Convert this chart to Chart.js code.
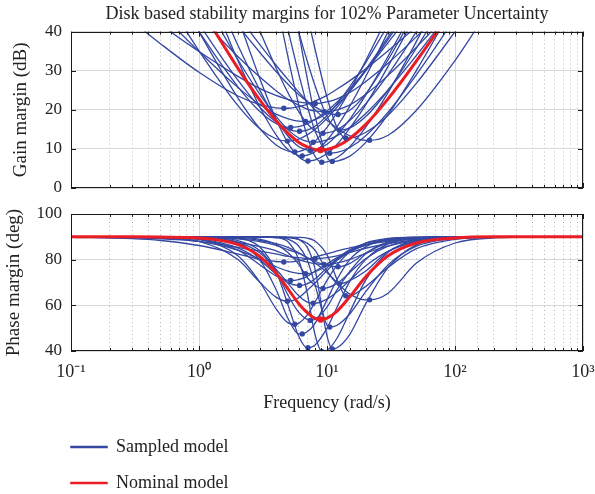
<!DOCTYPE html>
<html>
<head>
<meta charset="utf-8">
<script src="https://cdn.jsdelivr.net/npm/chart.js@4.4.1/dist/chart.umd.min.js"></script>
<style>
  html, body { margin: 0; padding: 0; background: #fff; overflow: hidden; width: 595px; height: 494px; }
  canvas { position: absolute; }
</style>
</head>
<body>
<canvas id="gain" width="595" height="195" style="left:0;top:0"></canvas>
<canvas id="phase" width="595" height="225" style="left:0;top:195px"></canvas>
<canvas id="key" width="250" height="200" style="left:53px;top:420px"></canvas>
<script>
// frequency grid (rad/s) shared by every curve
var FREQ = [0.1, 0.3, 0.5, 1, 2, 3, 4, 5, 6, 7, 8, 10, 12, 15, 20, 30, 50, 100, 200, 1000];

// nominal model
var nominalGain  = [90, 75, 63, 46.7, 30.8, 22.4, 17.2, 13.9, 11.7, 10.5, 9.85, 9.85, 10.7, 12.6, 16.2, 22.8, 32.5, 47, 65, 90];
var nominalPhase = [90, 90, 89.9, 89.5, 86.7, 81.3, 74.2, 66.9, 60.8, 56.8, 54.4, 54.4, 57.5, 63.6, 72.4, 81.7, 87.3, 89.5, 90, 90];
var nominalMinFreq = 8.9, nominalMinGain = 9.7, nominalMinPhase = 53.8;

// sampled models, gain margin (dB) on FREQ
var sampledGain = [
  [56, 42.7, 36.9, 29.6, 23.6, 21.3, 20.5, 20.4, 20.8, 21.4, 22.2, 23.7, 25.3, 27.4, 30.4, 35.1, 41.3, 50.2, 59, 70],
  [59, 47.2, 41.8, 34.9, 28.6, 25.4, 23.7, 22.6, 22.0, 21.7, 21.6, 22.0, 22.8, 24.4, 27.2, 31.9, 38.7, 48.5, 58.4, 70],
  [90, 75, 65, 54.6, 41.7, 34.6, 29.8, 26.4, 23.9, 22.1, 20.8, 19.2, 18.8, 19.8, 24.0, 32.8, 45.8, 65, 80, 90],
  [90, 67, 55.4, 40.0, 26.0, 19.5, 16.5, 15.5, 15.7, 16.4, 17.5, 19.7, 22.0, 25.3, 30.0, 37.2, 46.7, 60, 75, 90],
  [100, 95, 88, 78, 53.8, 40, 30.7, 24.1, 19.6, 16.5, 14.7, 14.1, 14.9, 17.2, 21.5, 29.0, 40, 55.9, 70, 90],
  [100, 100, 100, 100, 95, 76, 61, 49.3, 40, 32.5, 26.5, 18.3, 14.9, 15.3, 18.2, 25.0, 35.8, 52.3, 70, 90],
  [90, 70, 57.6, 42.0, 27.7, 20.6, 16.9, 15.0, 14.5, 14.8, 15.7, 18.5, 21.5, 25.8, 32.0, 41.7, 54.5, 70, 85, 95],
  [85, 62.7, 50.6, 35.1, 21.2, 15.1, 12.6, 12.0, 12.5, 13.6, 14.9, 17.8, 20.7, 24.6, 30.2, 38.6, 49.9, 65, 80, 95],
  [95, 85, 70, 57.8, 44.2, 36.6, 31.4, 27.6, 24.6, 22.2, 20.1, 17.3, 15.3, 13.4, 12.2, 13.5, 19.9, 32.6, 47.2, 75],
  [90, 80, 68, 50.3, 33.0, 23.9, 18.3, 14.8, 12.8, 11.9, 11.7, 12.3, 13.4, 15.5, 19.0, 25.1, 33.9, 46.8, 60, 90],
  [90, 75, 58.4, 40, 23.2, 15.1, 11.0, 9.4, 9.3, 10.2, 11.8, 15.5, 19.4, 24.8, 32.5, 44.2, 60, 75, 90, 95],
  [95, 85, 70, 55.9, 32.8, 20.6, 13.6, 9.7, 8.3, 8.4, 9.2, 12.2, 15.7, 20.8, 28.4, 40, 55.6, 75, 90, 95],
  [100, 95, 85, 73, 43.9, 27.8, 17.6, 11.3, 8.0, 6.9, 7.1, 8.8, 11.2, 15.2, 21.2, 31.1, 44.7, 65, 85, 95],
  [100, 100, 100, 95, 85, 69, 48.2, 32.9, 21.4, 13.3, 8.3, 6.7, 7.8, 10.5, 15.5, 24.4, 37.5, 56.7, 75, 95],
  [100, 100, 100, 100, 95, 85, 73, 54.8, 40.0, 28.1, 18.9, 8.0, 6.9, 8.1, 11.6, 18.8, 30.1, 47.3, 65, 95],
  [95, 90, 75, 58.9, 36.7, 24.9, 17.6, 13.1, 10.6, 9.7, 9.7, 11.2, 13.6, 17.5, 23.7, 33.7, 47.4, 70, 85, 95],
  [100, 100, 100, 95, 85, 72, 53.8, 40, 29.3, 21.0, 14.9, 9.1, 9.1, 10.3, 13.3, 19.4, 29.0, 43.5, 59, 90],
  [100, 100, 100, 100, 95, 85, 75, 66, 54.4, 44.4, 36.0, 23.2, 15.4, 12.8, 14.2, 18.6, 26.8, 40, 54.1, 85],
  [70, 52.7, 44.9, 34.9, 25.8, 21.3, 18.9, 17.7, 17.1, 17.0, 17.4, 19.1, 21.3, 24.7, 29.9, 38.0, 49, 65, 80, 95],
  [90, 65, 54.8, 44.0, 33.7, 28.3, 24.9, 22.6, 21.2, 20.2, 19.7, 19.5, 20.0, 21.2, 23.9, 28.8, 36.0, 46.8, 60, 90]
];

// sampled models, phase margin (deg) on FREQ
var sampledPhase = [
  [89.8, 89.2, 88.4, 86.2, 82.5, 80.1, 79.2, 79.0, 79.5, 80.2, 81.1, 82.5, 83.8, 85.1, 86.6, 88.0, 89.0, 89.6, 89.9, 90],
  [89.9, 89.5, 89.1, 88.0, 85.4, 83.7, 82.5, 81.4, 80.9, 80.5, 80.5, 80.9, 81.7, 83.1, 85.0, 87.0, 88.7, 89.5, 89.9, 90],
  [90, 90, 90, 89.8, 89.1, 87.9, 86.3, 84.3, 82.8, 80.9, 79.3, 77.5, 76.9, 78.3, 82.9, 87.2, 89.5, 90, 90, 90],
  [90, 90, 89.8, 88.9, 84.3, 77.7, 72.9, 70.9, 71.3, 72.7, 74.8, 78.1, 80.9, 83.9, 86.4, 88.4, 89.5, 89.9, 90, 90],
  [90, 90, 90, 90, 89.8, 88.9, 86.7, 82.9, 78.0, 72.2, 68.9, 67.6, 69.6, 74.3, 80.4, 85.9, 88.9, 89.8, 90, 90],
  [90, 90, 90, 90, 90, 90, 89.9, 89.6, 88.9, 87.2, 84.4, 75.1, 69.6, 70.8, 74.9, 83.6, 88.2, 89.7, 90, 90],
  [90, 90, 89.9, 89.1, 85.2, 79.7, 73.7, 69.8, 68.7, 69.4, 71.4, 76.4, 80.4, 84.3, 87.1, 89.0, 89.7, 90, 90, 90],
  [90, 89.9, 89.6, 88.0, 80.2, 70.0, 63.6, 61.8, 63.3, 66.6, 69.6, 75.2, 79.7, 83.3, 86.5, 88.7, 89.6, 90, 90, 90],
  [90, 90, 90, 89.9, 89.4, 88.4, 87.0, 85.3, 83.0, 80.9, 78.8, 74.4, 69.9, 65.0, 62.4, 65.3, 78.5, 87.3, 89.5, 90],
  [90, 90, 90, 89.6, 87.7, 82.9, 75.8, 69.4, 64.2, 61.4, 60.9, 62.7, 65.9, 70.9, 77.2, 83.6, 87.8, 89.5, 89.9, 90],
  [90, 90, 89.9, 88.9, 81.8, 70.0, 58.5, 52.2, 52.1, 55.7, 61.1, 70.9, 77.7, 83.4, 87.3, 89.3, 89.9, 90, 90, 90],
  [90, 90, 90, 89.8, 87.6, 79.7, 66.9, 53.8, 47.5, 48.4, 51.8, 62.4, 71.4, 79.9, 85.6, 88.9, 89.8, 90, 90, 90],
  [90, 90, 90, 90, 89.3, 85.4, 74.9, 59.6, 46.6, 41.4, 42.4, 50.0, 59.3, 70.3, 80.0, 86.9, 89.4, 89.9, 90, 90],
  [90, 90, 90, 90, 90, 89.9, 89.6, 87.6, 80.1, 65.6, 48.0, 40.3, 45.7, 56.8, 70.9, 83.2, 88.4, 89.8, 90, 90],
  [90, 90, 90, 90, 90, 90, 89.9, 89.8, 88.9, 85.5, 76.7, 46.6, 41.4, 47.1, 60.5, 76.5, 86.5, 89.5, 89.9, 90],
  [90, 90, 90, 89.9, 88.4, 83.9, 74.9, 64.1, 57.0, 53.8, 53.8, 59.2, 66.9, 74.7, 82.5, 87.8, 89.5, 90, 90, 90],
  [90, 90, 90, 90, 90, 89.9, 89.8, 88.9, 86.0, 79.8, 69.6, 51.3, 51.3, 56.1, 65.9, 77.7, 85.9, 89.3, 89.9, 90],
  [90, 90, 90, 90, 90, 90, 90, 89.9, 89.8, 89.4, 88.3, 82.1, 71.2, 64.2, 68.2, 76.6, 84.8, 88.9, 89.8, 90],
  [89.9, 89.7, 89.4, 88.0, 84.2, 80.1, 76.9, 74.9, 74.0, 73.9, 74.6, 77.3, 80.1, 83.4, 86.4, 88.6, 89.5, 90, 90, 90],
  [90, 90, 89.8, 89.4, 87.6, 85.7, 83.9, 81.6, 80.0, 78.9, 78.3, 77.9, 78.6, 80.0, 82.8, 85.9, 88.3, 89.5, 89.9, 90]
];

// minimum of each sampled curve (the dots)
var minFreq  = [4.6, 8.1, 12.2, 5.2, 9.3, 12.5, 6.1, 4.9, 21.5, 7.8, 5.6, 6.4, 7.1, 9.1, 11.0, 7.4, 10.5, 14.0, 6.8, 9.5];
var minGain  = [20.4, 21.6, 18.8, 15.5, 14.0, 14.8, 14.5, 12.0, 12.2, 11.7, 9.2, 8.2, 6.9, 6.6, 6.8, 9.6, 8.9, 12.8, 17.0, 19.5];
var minPhase = [79.0, 80.5, 76.9, 70.9, 67.4, 69.4, 68.7, 61.8, 62.4, 60.9, 51.7, 47.5, 41.4, 39.8, 40.9, 53.4, 50.5, 64.2, 73.9, 77.9];

var xTickLabels = {'-1': '10⁻¹', '0': '10⁰', '1': '10¹', '2': '10²', '3': '10³'};

var BLUE = 'rgb(52,72,162)';
var RED = 'rgb(234,28,36)';
var FONT = "'Liberation Serif', 'Times New Roman', serif";

Chart.defaults.font.family = FONT;
Chart.defaults.color = '#222';

function serif(size) {
  return {family: FONT, size: size, weight: 'normal'};
}

function curve(values, fMin, vMin) {
  var pts = [];
  for (var i = 0; i < FREQ.length; i++) pts.push({x: FREQ[i], y: values[i]});
  pts.push({x: fMin, y: vMin});
  pts.sort(function (a, b) { return a.x - b.x; });
  return pts;
}

function isDecade(v) {
  var l = Math.log10(v);
  return Math.abs(l - Math.round(l)) < 1e-6;
}

function buildSets(series, mins, nomValues, nomMin) {
  var sets = [];
  sets.push({data: [{x: nominalMinFreq, y: nomMin}], showLine: false, pointRadius: 3.2,
    pointBackgroundColor: RED, pointBorderWidth: 0, order: 0});
  var dots = [];
  for (var i = 0; i < minFreq.length; i++) dots.push({x: minFreq[i], y: mins[i]});
  sets.push({data: dots, showLine: false, pointRadius: 2.7,
    pointBackgroundColor: BLUE, pointBorderWidth: 0, order: 1});
  sets.push({data: curve(nomValues, nominalMinFreq, nomMin), borderColor: RED, borderWidth: 3,
    pointRadius: 0, order: 2});
  for (var j = 0; j < series.length; j++) {
    sets.push({data: curve(series[j], minFreq[j], mins[j]), borderColor: BLUE, borderWidth: 1.3,
      pointRadius: 0, order: 3});
  }
  return sets;
}

// black box round the plot with small inward ticks
var frame = {
  id: 'frame',
  afterDraw: function (chart) {
    var a = chart.chartArea, ctx = chart.ctx;
    var xs = chart.scales.x, ys = chart.scales.y;
    ctx.save();
    ctx.strokeStyle = '#1a1a1a';
    ctx.lineWidth = 1;
    ctx.beginPath();
    xs.ticks.forEach(function (t) {
      var px = Math.round(xs.getPixelForValue(t.value)) + 0.5;
      var len = isDecade(t.value) ? 5 : 3;
      ctx.moveTo(px, a.bottom); ctx.lineTo(px, a.bottom - len);
      ctx.moveTo(px, a.top); ctx.lineTo(px, a.top + len);
    });
    ys.ticks.forEach(function (t) {
      var py = Math.round(ys.getPixelForValue(t.value)) + 0.5;
      ctx.moveTo(a.left, py); ctx.lineTo(a.left + 5, py);
      ctx.moveTo(a.right, py); ctx.lineTo(a.right - 5, py);
    });
    ctx.stroke();
    ctx.strokeRect(Math.round(a.left) + 0.5, Math.round(a.top) + 0.5,
      Math.round(a.width) - 1, Math.round(a.height) - 1);
    ctx.restore();
  }
};

function xScale(showLabels) {
  return {
    type: 'logarithmic', min: 0.1, max: 1000,
    grid: {
      drawTicks: false,
      color: function (c) { return c.tick && isDecade(c.tick.value) ? '#d6d6d6' : '#b8b8b8'; }
    },
    border: {
      display: false,
      dash: function (c) { return c.tick && isDecade(c.tick.value) ? [] : [1, 3]; }
    },
    ticks: {
      display: showLabels, autoSkip: false, maxRotation: 0, minRotation: 0, padding: 10,
      font: serif(18), color: '#222',
      callback: function (v) {
        return isDecade(v) ? xTickLabels[String(Math.round(Math.log10(v)))] : '';
      }
    },
    title: {
      display: showLabels, text: 'Frequency (rad/s)', font: serif(18), color: '#222',
      padding: {top: 0, bottom: 6}
    },
    afterFit: function (s) {
      s.height = showLabels ? 69 : 0;
      s.paddingLeft = 0; s.paddingRight = 0;
    }
  };
}

function yScale(min, max, step, text, titlePad) {
  return {
    min: min, max: max,
    grid: {drawTicks: false, color: '#d9d9d9'},
    border: {display: false},
    ticks: {stepSize: step, padding: 9, font: serif(17), color: '#222'},
    title: {display: true, text: text, font: serif(19), color: '#222',
      padding: {top: titlePad, bottom: 0}},
    afterFit: function (s) {
      s.width = 71;
      s.paddingTop = 0; s.paddingBottom = 0;
    }
  };
}

var common = {
  responsive: false,
  animation: false,
  devicePixelRatio: 1,
  elements: {line: {cubicInterpolationMode: 'monotone', fill: false}},
  plugins: {legend: {display: false}, tooltip: {enabled: false}}
};

new Chart(document.getElementById('gain'), {
  type: 'line',
  data: {datasets: buildSets(sampledGain, minGain, nominalGain, nominalMinGain)},
  options: Object.assign({}, common, {
    layout: {padding: {left: 0, right: 12, top: 0, bottom: 7}},
    plugins: {
      legend: {display: false}, tooltip: {enabled: false},
      title: {
        display: true, fullSize: false,
        text: 'Disk based stability margins for 102% Parameter Uncertainty',
        font: serif(18), color: '#222',
        padding: {top: 3, bottom: 7}
      }
    },
    scales: {x: xScale(false), y: yScale(0, 40, 10, 'Gain margin (dB)', 10)}
  }),
  plugins: [frame]
});

new Chart(document.getElementById('phase'), {
  type: 'line',
  data: {datasets: buildSets(sampledPhase, minPhase, nominalPhase, nominalMinPhase)},
  options: Object.assign({}, common, {
    layout: {padding: {left: 0, right: 12, top: 19, bottom: 0}},
    scales: {x: xScale(true), y: yScale(40, 100, 20, 'Phase margin (deg)', 3)}
  }),
  plugins: [frame]
});

// legend on its own narrow canvas so the two entries stack
new Chart(document.getElementById('key'), {
  type: 'line',
  data: {
    datasets: [
      {label: 'Sampled model', data: [], borderColor: BLUE, backgroundColor: BLUE, borderWidth: 1.5},
      {label: 'Nominal model', data: [], borderColor: RED, backgroundColor: RED, borderWidth: 1.5}
    ]
  },
  options: {
    responsive: false, animation: false, devicePixelRatio: 1,
    scales: {x: {display: false}, y: {display: false}},
    plugins: {
      tooltip: {enabled: false},
      legend: {
        position: 'top', align: 'start',
        labels: {boxWidth: 36, boxHeight: 1, padding: 18, color: '#222', font: serif(18)}
      }
    }
  }
});
</script>
</body>
</html>
